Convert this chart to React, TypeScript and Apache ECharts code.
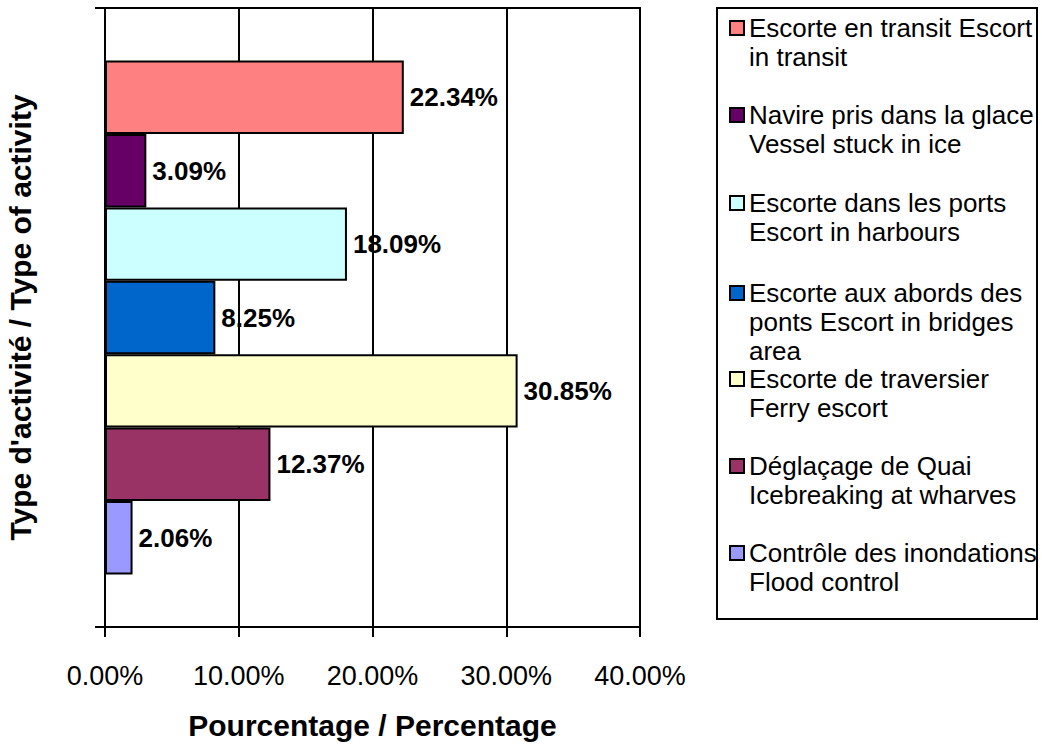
import React, { useEffect, useRef } from "react";
import * as echarts from "echarts";

const categories = [""];
const seriesNames = [
  "Escorte en transit Escort in transit",
  "Navire pris dans la glace Vessel stuck in ice",
  "Escorte dans les ports Escort in harbours",
  "Escorte aux abords des ponts Escort in bridges area",
  "Escorte de traversier Ferry escort",
  "Déglaçage de Quai Icebreaking at wharves",
  "Contrôle des inondations Flood control",
];
const legendLines = [
  ["Escorte en transit Escort", "in transit"],
  ["Navire pris dans la glace", "Vessel stuck in ice"],
  ["Escorte dans les ports", "Escort in harbours"],
  ["Escorte aux abords des", "ponts Escort in bridges", "area"],
  ["Escorte de traversier", "Ferry escort"],
  ["Déglaçage de Quai", "Icebreaking at wharves"],
  ["Contrôle des inondations", "Flood control"],
];
const values = [22.34, 3.09, 18.09, 8.25, 30.85, 12.37, 2.06];
const colors = ["#FF8080", "#660066", "#CCFFFF", "#0066CC", "#FFFFCC", "#993366", "#9999FF"];
const xTicks = { min: 0, max: 40, interval: 10 };
const xTitle = "Pourcentage / Percentage";
const yTitle = "Type d'activité / Type of activity";

const FONT = "'Liberation Sans', Arial, Helvetica, sans-serif";
const LINE_H = 29;
const legendLine1Centers = [28, 115, 203, 293, 379, 466, 553];

export default function App() {
  const ref = useRef<HTMLDivElement>(null);
  useEffect(() => {
    if (!ref.current) return;
    const chart = echarts.init(ref.current, null, { renderer: "svg" });
    const series = seriesNames.map((name, i) => ({
      type: "bar",
      name,
      data: [values[i]],
      barGap: "0%",
      barCategoryGap: "17%",
      itemStyle: { color: colors[i], borderColor: "#000", borderWidth: 2 },
      label: {
        show: true,
        position: "right",
        distance: 6,
        formatter: (p: any) => Number(p.value).toFixed(2) + "%",
        color: "#000",
        fontWeight: "bold",
        fontSize: 26,
        fontFamily: FONT,
      },
      z: 2,
    }));
    const legends = seriesNames.map((name, i) => {
      const n = legendLines[i].length;
      return {
        show: true,
        orient: "vertical",
        left: 729,
        top: legendLine1Centers[i] - (LINE_H / 2) * (2 * n - 1),
        padding: 0,
        itemGap: 0,
        itemWidth: 14,
        itemHeight: 14,
        icon: "rect",
        selectedMode: false,
        data: [name],
        itemStyle: { borderColor: "#000", borderWidth: 2 },
        formatter: () => "\n".repeat(n - 1) + legendLines[i].join("\n"),
        textStyle: {
          fontSize: 26,
          lineHeight: LINE_H,
          fontFamily: FONT,
          color: "#000",
        },
      };
    });
    chart.setOption({
      animation: false,
      backgroundColor: "#fff",
      textStyle: { fontFamily: FONT },
      grid: {
        left: 105,
        right: 1042 - 640,
        top: 8,
        bottom: 744 - 627,
        show: true,
        borderColor: "#000",
        borderWidth: 2,
        containLabel: false,
        outerBoundsMode: "none",
      },
      legend: legends,
      xAxis: {
        type: "value",
        min: xTicks.min,
        max: xTicks.max,
        interval: xTicks.interval,
        axisLine: { show: true, lineStyle: { color: "#000", width: 2 } },
        axisTick: { show: true, length: 10, lineStyle: { color: "#000", width: 2 } },
        splitLine: { show: true, lineStyle: { color: "#000", width: 2 } },
        axisLabel: {
          color: "#000",
          fontSize: 27,
          fontFamily: FONT,
          margin: 35,
          formatter: (v: number) => v.toFixed(2) + "%",
        },
        name: xTitle,
        nameLocation: "middle",
        nameGap: 83,
        nameTextStyle: { color: "#000", fontSize: 30, fontWeight: "bold", fontFamily: FONT },
      },
      yAxis: {
        type: "category",
        data: categories,
        inverse: true,
        axisLine: { show: true, lineStyle: { color: "#000", width: 2 } },
        axisTick: { show: true, length: 10, lineStyle: { color: "#000", width: 2 } },
        axisLabel: { show: false },
        splitLine: { show: false },
        name: yTitle,
        nameLocation: "middle",
        nameRotate: 90,
        nameGap: 70,
        nameTextStyle: { color: "#000", fontSize: 30, fontWeight: "bold", fontFamily: FONT },
      },
      graphic: [
        {
          type: "rect",
          shape: { x: 717, y: 8, width: 320, height: 611 },
          style: { fill: "none", stroke: "#000", lineWidth: 2 },
          silent: true,
        },
      ],
      series,
    });
    return () => chart.dispose();
  }, []);
  return (
    <div
      ref={ref}
      style={{ position: "fixed", left: 0, top: 0, width: 1042, height: 744, background: "#fff" }}
    />
  );
}
